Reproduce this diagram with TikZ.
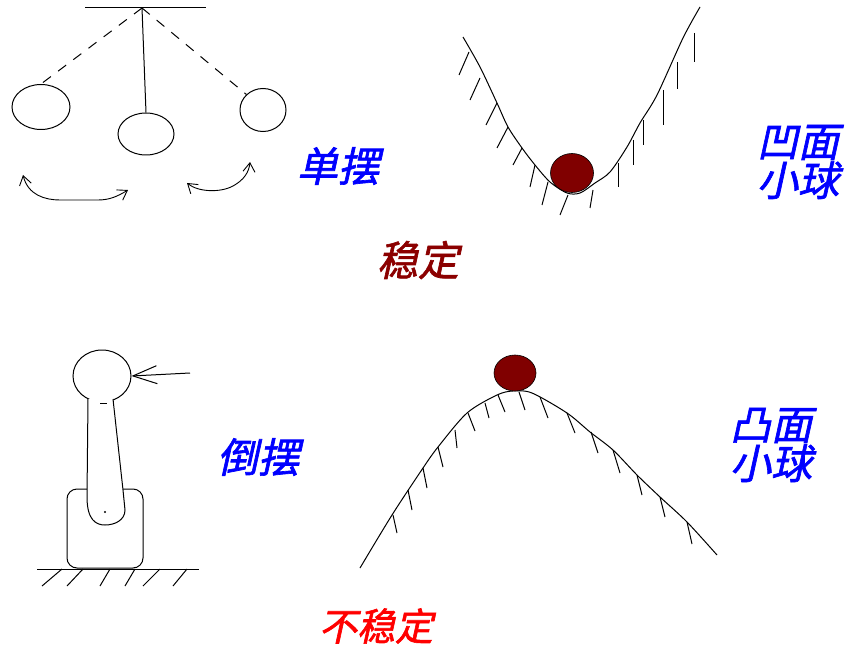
\documentclass[tikz,border=0pt]{standalone}
\usepackage{fontspec}
\newfontfamily\cjk[FakeSlant=0.22,FakeBold=1.6]{Noto Sans CJK SC}
\usetikzlibrary{arrows.meta,shapes.geometric}
\definecolor{ballred}{RGB}{128,0,0}
\definecolor{labelblue}{RGB}{0,0,255}
\definecolor{stablered}{RGB}{139,0,0}
\definecolor{unstablered}{RGB}{255,0,0}
\begin{document}
\begin{tikzpicture}[x=1pt,y=-1pt,line width=1pt,
  label/.style={font=\cjk\fontsize{41}{39}\selectfont,inner sep=0pt,align=center},
  bob/.style={draw,ellipse,inner sep=0pt},
  ball/.style={draw=black,line width=0.6pt,fill=ballred,ellipse,inner sep=0pt},
  hatch/.style={line width=1pt},
  swing/.style={line width=0.9pt,{Straight Barb[length=9,width=12]}-{Straight Barb[length=9,width=12]}},
  rope/.style={dash pattern=on 10pt off 9pt}
]
\useasboundingbox (0,0) rectangle (853,647);

% ---------- simple pendulum ----------
\coordinate (pivot) at (142,8);
\coordinate (beamL) at (85,8);
\coordinate (beamR) at (206,8);
\draw (beamL) -- (beamR);
\node[bob,minimum width=58,minimum height=45] (bobL) at (41,107) {};
\node[bob,minimum width=56,minimum height=42] (bobM) at (146,134) {};
\node[bob,minimum width=46,minimum height=43] (bobR) at (263,110) {};
\draw (pivot) -- (bobM.north);
\draw[rope] (pivot) -- (bobL.north);
\draw[rope] (pivot) -- (bobR.north west);
% swing arrows
\coordinate (swL1) at (23,175);
\coordinate (swL2) at (128,190);
\draw[swing] (swL1) .. controls (28,195) and (45,200) .. (60,200) -- (98,200) .. controls (110,200) and (118,196) .. (swL2);
\coordinate (swR1) at (187,183);
\coordinate (swR2) at (250,162);
\draw[swing] (swR1) .. controls (198,192) and (220,193) .. (233,186) .. controls (244,180) and (249,172) .. (swR2);

\node[label,text=labelblue] (lblSingle) at (338,166) {单摆};

% ---------- ball in a valley ----------
\draw plot[smooth,tension=0.5] coordinates {(463,37) (480,67) (497,103) (508,127) (522,148) (535,165) (550,182) (567,193) (580,193) (595,183) (610,172) (627,147) (640,123) (657,95) (683,38) (700,7)};
\foreach \a/\b/\c/\d in {469/52/459/75, 480/78/470/100, 497/103/486/125, 508/127/497/148, 522/148/513/165, 535/165/530/187, 548/182/542/205, 568/195/560/215, 593/190/590/208}
  \draw[hatch] (\a,\b) -- (\c,\d);
\foreach \x/\ya/\yb in {618/163/187, 633/140/165, 643/120/145, 663/90/125, 677/62/89, 694/33/62}
  \draw[hatch] (\x,\ya) -- (\x,\yb);
\node[ball,minimum width=43,minimum height=39] (ballV) at (572,173) {};

\node[label,text=labelblue] (lblConcave) at (798,162) {凹面\\小球};
\node[label,text=stablered] (lblStable) at (418,260) {稳定};

% ---------- inverted pendulum ----------
\draw[fill=white,rounded corners=10] (67,489) rectangle (143,568);
\node[bob,minimum width=58,minimum height=52] (head) at (102,376) {};
\draw[fill=white] (88,399) -- (87,497) .. controls (87,520) and (96,525) .. (105,525)
  .. controls (115,525) and (125,520) .. (125,510) -- (123,490) -- (113,399);
\draw[line width=0.8pt] (100,403) -- (107,403);
\fill (105,512) circle (1.2);
% ground
\coordinate (gndL) at (37,569);
\coordinate (gndR) at (199,569);
\draw (gndL) -- (gndR);
\foreach \a/\b in {62/42, 83/67, 110/100, 135/125, 160/143, 187/173}
  \draw[hatch] (\a,569) -- (\b,586);
% push
\coordinate (push) at (190,373);
\draw[-{Straight Barb[length=24,width=18]}] (push) -- (head.east);

\node[label,text=labelblue] (lblInverted) at (258,457) {倒摆};

% ---------- ball on a hill ----------
\draw plot[smooth,tension=0.5] coordinates {(360,568) (392,515) (423,468) (438,447) (467,413) (497,395) (513,391) (532,393) (567,413) (590,432) (613,450) (637,475) (660,497) (687,522) (717,555)};
\foreach \a/\b/\c/\d in {393/515/397/533, 408/490/412/510, 423/468/427/488, 438/447/443/467, 455/430/457/448, 468/413/475/431, 485/403/489/418, 498/395/505/412, 519/392/525/410, 540/397/548/418, 567/413/575/433, 591/432/598/453, 613/450/620/473, 637/475/642/495, 660/497/665/517, 687/522/692/544}
  \draw[hatch] (\a,\b) -- (\c,\d);
\node[ball,minimum width=42,minimum height=36] (ballH) at (515,373) {};

\node[label,text=labelblue] (lblConvex) at (771,445) {凸面\\小球};
\node[label,text=unstablered,font=\cjk\fontsize{38}{38}\selectfont] (lblUnstable) at (376,626) {不稳定};
\end{tikzpicture}
\end{document}
